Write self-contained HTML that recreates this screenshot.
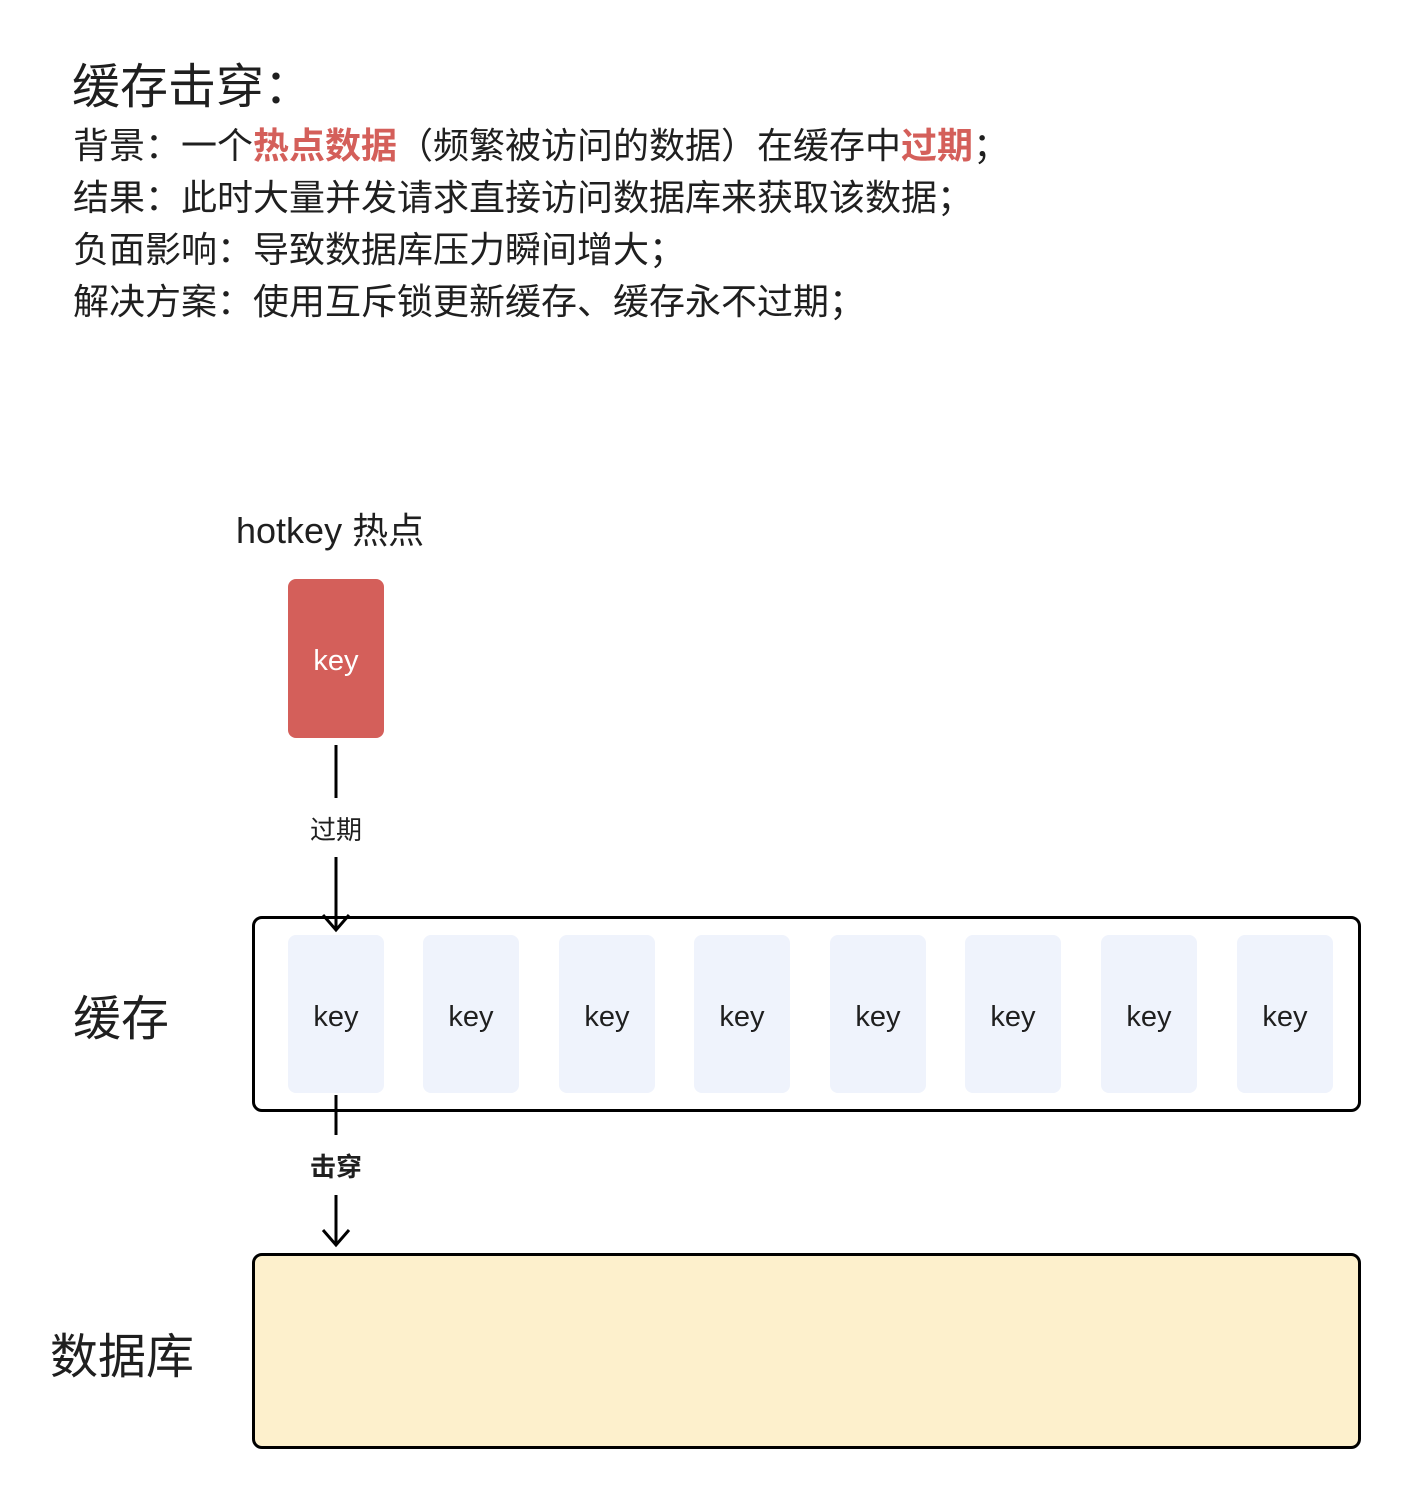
<!DOCTYPE html>
<html><head><meta charset="utf-8"><style>
body{margin:0;width:1410px;height:1498px;background:#fff;position:relative;font-family:"Liberation Sans","Noto Sans CJK SC",sans-serif;color:#1f1f1f;overflow:hidden}
.t{position:absolute;white-space:nowrap;line-height:1}
.r{color:#d45f5a;font-weight:bold}
.k{position:absolute;width:96px;height:158px;background:#eff3fc;border-radius:8px;top:935px;font-size:29px;display:flex;align-items:center;justify-content:center;color:#1f1f1f;padding-top:6px;box-sizing:border-box}
</style></head><body>
<div class="t" style="left:72px;top:64px;font-size:48px">缓存击穿：</div>
<div class="t" style="left:73px;top:120px;font-size:36px;line-height:52px">背景：一个<span class="r">热点数据</span>（频繁被访问的数据）在缓存中<span class="r">过期</span>；<br>结果：此时大量并发请求直接访问数据库来获取该数据；<br>负面影响：导致数据库压力瞬间增大；<br>解决方案：使用互斥锁更新缓存、缓存永不过期；</div>
<div class="t" style="left:236px;top:513px;font-size:36px">hotkey 热点</div>
<div class="k" style="left:288px;top:579px;height:159px;background:#d45f5a;color:#fff">key</div>
<div style="position:absolute;left:252px;top:916px;width:1103px;height:190px;border:3px solid #000;border-radius:10px"></div>
<div class="k" style="left:288px">key</div>
<div class="k" style="left:423px">key</div>
<div class="k" style="left:559px">key</div>
<div class="k" style="left:694px">key</div>
<div class="k" style="left:830px">key</div>
<div class="k" style="left:965px">key</div>
<div class="k" style="left:1101px">key</div>
<div class="k" style="left:1237px">key</div>
<div style="position:absolute;left:252px;top:1253px;width:1103px;height:190px;border:3px solid #000;border-radius:10px;background:#fdf0cc"></div>
<div class="t" style="left:73px;top:996px;font-size:48px">缓存</div>
<div class="t" style="left:50px;top:1334px;font-size:48px">数据库</div>
<svg style="position:absolute;left:0;top:0" width="1410" height="1498">
<g stroke="#000" stroke-width="3" fill="none">
<line x1="336" y1="745" x2="336" y2="798"/>
<line x1="336" y1="857" x2="336" y2="930"/>
<polyline points="323,915 336,930 349,915"/>
<line x1="336" y1="1095" x2="336" y2="1135"/>
<line x1="336" y1="1195" x2="336" y2="1245"/>
<polyline points="323,1230 336,1245 349,1230"/>
</g>
<text x="336" y="839" font-size="26" text-anchor="middle" fill="#1f1f1f" font-family="Liberation Sans,Noto Sans CJK SC,sans-serif">过期</text>
<text x="336" y="1176" font-size="26" font-weight="bold" text-anchor="middle" fill="#1f1f1f" font-family="Liberation Sans,Noto Sans CJK SC,sans-serif">击穿</text>
</svg>
</body></html>
